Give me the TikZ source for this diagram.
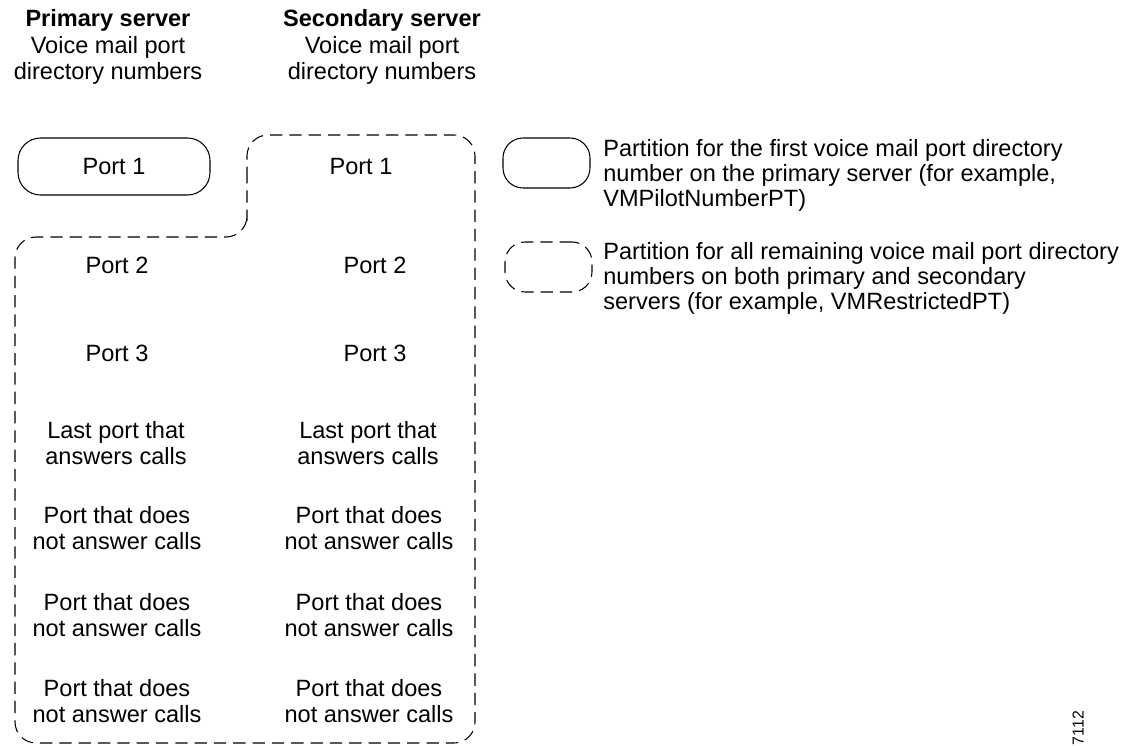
\documentclass[tikz,border=0pt]{standalone}
\usepackage{fontspec}
\setmainfont{Liberation Sans}

\begin{document}
\begin{tikzpicture}[x=0.02cm,y=-0.02cm,
  lbl/.style={align=center,inner sep=0pt,font=\fontsize{13.4}{15}\selectfont},
  keytext/.style={align=left,anchor=west,inner sep=0pt,font=\fontsize{13.4}{14.2}\selectfont},
  solidpart/.style={draw,line width=0.6pt,rounded corners=0.45cm},
  dashpart/.style={draw,line width=0.6pt,dash pattern=on 7pt off 4pt,rounded corners=0.42cm}]
\useasboundingbox (0,0) rectangle (1144,746);
% column heads
\node[lbl] (prihead) at (108,47) {\textbf{Primary server}\\Voice mail port\\directory numbers};
\node[lbl] (sechead) at (382,47) {\textbf{Secondary server}\\Voice mail port\\directory numbers};
% partition of the first port
\node[solidpart,lbl,minimum width=3.84cm,minimum height=1.14cm] (pri1) at (114,166.5) {Port 1};
% partition of the other ports
\draw[dashpart] (247,200) -- (247,135) -- (475,135) -- (475,743) -- (15,743) -- (15,237) -- (247,237) -- cycle;
\node[lbl] (sec1) at (361,167) {Port 1};
\node[lbl] (pri2) at (117,265) {Port 2};
\node[lbl] (sec2) at (375,265) {Port 2};
\node[lbl] (pri3) at (117,353) {Port 3};
\node[lbl] (sec3) at (375,353) {Port 3};
\node[lbl] (prilast) at (116,443) {Last port that\\answers calls};
\node[lbl] (seclast) at (368,443) {Last port that\\answers calls};
\node[lbl] (prino1) at (117,528) {Port that does\\not answer calls};
\node[lbl] (secno1) at (369,528) {Port that does\\not answer calls};
\node[lbl] (prino2) at (117,615) {Port that does\\not answer calls};
\node[lbl] (secno2) at (369,615) {Port that does\\not answer calls};
\node[lbl] (prino3) at (117,701) {Port that does\\not answer calls};
\node[lbl] (secno3) at (369,701) {Port that does\\not answer calls};
% key
\node[solidpart,minimum width=1.74cm,minimum height=1cm,rounded corners=0.4cm] (keysolid) at (546.5,163) {};
\node[keytext] (keysolidtext) at (603,175) {Partition for the first voice mail port directory\\number on the primary server (for example,\\VMPilotNumberPT)};
\node[dashpart,minimum width=1.74cm,minimum height=1cm,rounded corners=0.4cm] (keydash) at (548.5,267) {};
\node[keytext] (keydashtext) at (603,278) {Partition for all remaining voice mail port directory\\numbers on both primary and secondary\\servers (for example, VMRestrictedPT)};
\node[rotate=90,inner sep=0pt,font=\fontsize{9}{10}\selectfont] (fignum) at (1078,728) {7112};
\end{tikzpicture}
\end{document}
